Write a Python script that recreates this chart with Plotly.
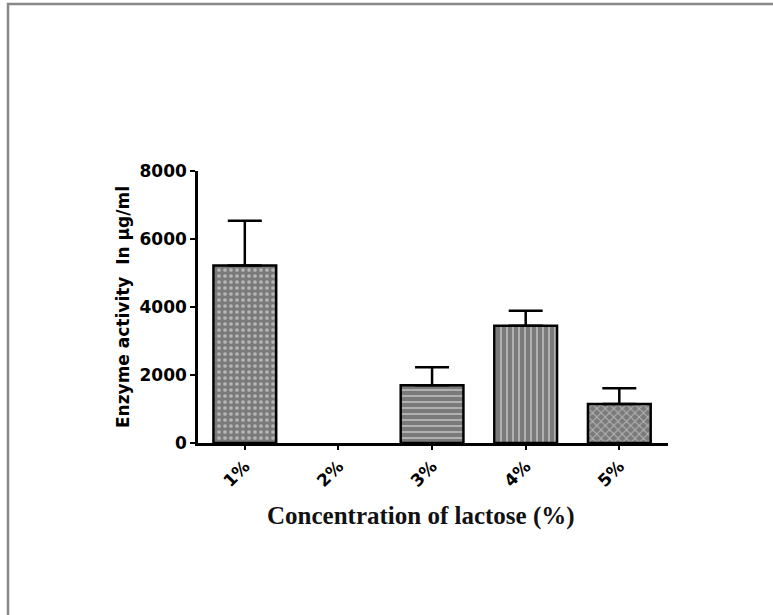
import plotly.graph_objects as go

categories = ["1%", "2%", "3%", "4%", "5%"]
values = [5220, None, 1700, 3450, 1150]
errors = [1320, None, 530, 440, 460]
patterns = [".", "", "-", "|", "x"]

W, H = 773, 615
L, R, T, B = 198, 105, 171, 172
pw, ph = W - L - R, H - T - B

fig = go.Figure()
fig.add_trace(go.Bar(
    x=categories, y=values, width=0.67,
    marker=dict(
        color="#8a8a8a",
        line=dict(color="black", width=2.5),
        pattern=dict(shape=patterns, fgcolor="#f2f2f2", bgcolor="#7a7a7a",
                     size=6, solidity=0.3, fillmode="overlay"),
    ),
    error_y=dict(type="data", array=errors, arrayminus=[0] * 5, symmetric=False,
                 color="black", thickness=2.5, width=17),
    showlegend=False,
))

px2x = lambda px: (px - L) / pw
py2y = lambda py: 1 - (py - T) / ph

fig.add_shape(type="path", xref="paper", yref="paper",
              path=f"M {px2x(8)} {py2y(615)} L {px2x(8)} {py2y(4)} L {px2x(773)} {py2y(4)}",
              line=dict(color="#888888", width=2.5))

fig.add_annotation(text="<b>Concentration of lactose (%)</b>", xref="paper", yref="paper",
                   x=px2x(421), y=py2y(516), xanchor="center", yanchor="middle", showarrow=False,
                   font=dict(family="Liberation Serif, Times New Roman, serif", size=25, color="#111"))

fig.update_layout(
    width=W, height=H,
    margin=dict(l=L, r=R, t=T, b=B),
    paper_bgcolor="white", plot_bgcolor="white",
    font=dict(family="DejaVu Sans, sans-serif", color="black"),
    xaxis=dict(
        range=[-0.5, 4.52], showline=True, linecolor="black", linewidth=2.5,
        ticks="outside", ticklen=4, tickwidth=2, tickcolor="black",
        tickangle=-45, tickfont=dict(size=17, family="DejaVu Sans", weight="bold"),
        showgrid=False, zeroline=False, fixedrange=True,
    ),
    yaxis=dict(
        range=[0, 8000], tickvals=[0, 2000, 4000, 6000, 8000],
        showline=True, linecolor="black", linewidth=2.5,
        ticks="outside", ticklen=5, tickwidth=2, tickcolor="black",
        tickfont=dict(size=17, family="DejaVu Sans", weight="bold"),
        showgrid=False, zeroline=False,
        title=dict(text="<b>Enzyme activity  In µg/ml</b>", standoff=6,
                   font=dict(size=17, family="DejaVu Sans")),
    ),
)

fig.write_html("out.html", config={"displayModeBar": False},
               post_script="document.body.style.margin='0';")
